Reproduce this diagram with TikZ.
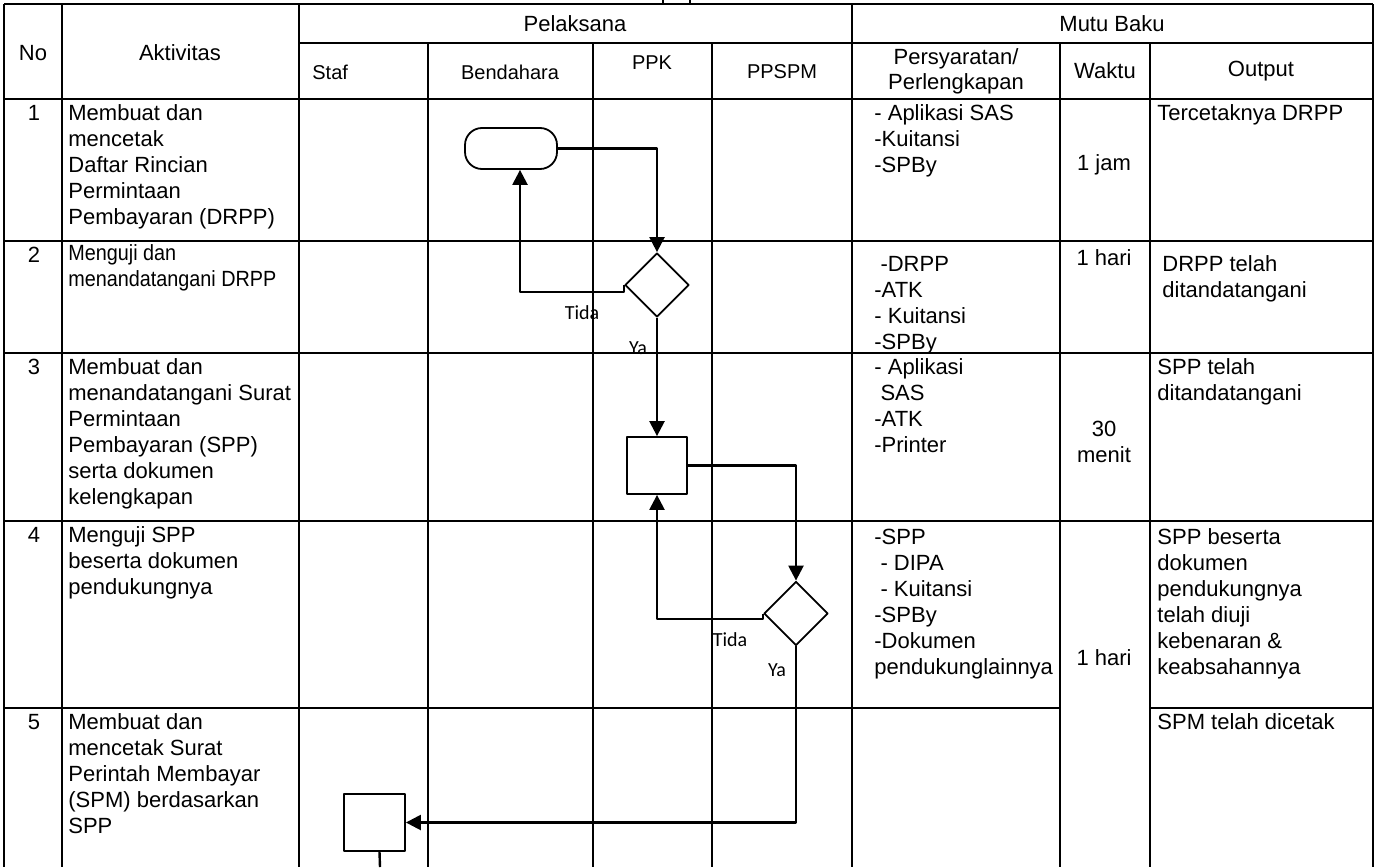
\documentclass[tikz,border=0pt]{standalone}
\usepackage{fontspec}
\setmainfont{Liberation Sans}
\newfontfamily\calibri{Carlito}
\newfontfamily\sempit[FakeStretch=0.9]{Liberation Sans}
\usetikzlibrary{arrows.meta,shapes.geometric,calc}
\newcommand{\isi}{\fontsize{11}{13}\selectfont}
\newcommand{\kecil}{\fontsize{10}{12}\selectfont}
\tikzset{
  garis/.style={line width=1.2pt},
  alur/.style={line width=1.2pt,-{Triangle[length=7.5pt,width=7.5pt]}},
  teks/.style={anchor=north west,inner sep=0pt,align=left,font=\isi},
  tengah/.style={inner sep=0pt,align=center,font=\isi},
  sub/.style={inner sep=0pt,align=center,font=\kecil},
  ket/.style={inner sep=0pt,font=\calibri\fontsize{10}{12}\selectfont},
  kotak/.style={draw,line width=0.9pt,minimum width=30pt,minimum height=28.5pt,inner sep=0pt},
  keputusan/.style={draw,diamond,aspect=1,line width=0.9pt,minimum width=32pt,minimum height=32pt,inner sep=0pt},
  terminal/.style={draw,line width=0.9pt,rounded corners=8.5pt,minimum width=46pt,minimum height=20.5pt,inner sep=0pt}
}
\begin{document}
\begin{tikzpicture}[x=0.5pt,y=-0.5pt,line join=round]
\useasboundingbox (0,0) rectangle (1375,867);
% tabel
\draw[garis] (4,4) -- (1373,4) (299,43) -- (1373,43) (4,99) -- (1373,99);
\foreach \y in {241,353,521}
	\draw[garis] (4,\y) -- (1373,\y);
\draw[garis] (4,708) -- (1060,708) (1150,708) -- (1373,708);
\foreach \x in {4,62,299,852,1373}
	\draw[garis] (\x,4) -- (\x,867);
\foreach \x in {428,593,712,1060,1150}
	\draw[garis] (\x,43) -- (\x,867);
\draw[garis] (663,0) -- (663,4) (690,0) -- (690,4);
% kepala tabel
\node[tengah] (hNo) at (33,53) {No};
\node[tengah] (hAktivitas) at (180,53) {Aktivitas};
\node[tengah] (hPelaksana) at (575,24) {Pelaksana};
\node[tengah] (hMutu) at (1112,24) {Mutu Baku};
\node[sub,anchor=west] (hStaf) at (312,72) {Staf};
\node[sub] (hBendahara) at (510,72) {Bendahara};
\node[sub] (hPPK) at (652,63) {PPK};
\node[sub] (hPPSPM) at (782,72) {PPSPM};
\node[tengah,font=\fontsize{11}{12.65}\selectfont] (hSyarat) at (956,71) {Persyaratan/\\Perlengkapan};
\node[tengah] (hWaktu) at (1105,71) {Waktu};
\node[tengah] (hOutput) at (1261,71) {Output};
% nomor
\foreach \no/\y in {1/99,2/241,3/353,4/521,5/708}
	\node[tengah,anchor=north] (no\no) at (34,\y+3) {\strut\no};
% aktivitas
\node[teks] (akt1) at (68,102) {\strut Membuat dan\\mencetak\\Daftar Rincian\\Permintaan\\Pembayaran (DRPP)};
\node[teks,font=\sempit\isi] (akt2) at (68,242) {\strut Menguji dan\\menandatangani DRPP};
\node[teks] (akt3) at (68,356) {\strut Membuat dan\\menandatangani Surat\\Permintaan\\Pembayaran (SPP)\\serta dokumen\\kelengkapan};
\node[teks] (akt4) at (68,524) {\strut Menguji SPP\\beserta dokumen\\pendukungnya};
\node[teks] (akt5) at (68,711) {\strut Membuat dan\\mencetak Surat\\Perintah Membayar\\(SPM) berdasarkan\\SPP};
% persyaratan
\node[teks] (syarat1) at (874,102) {\strut - Aplikasi SAS\\-Kuitansi\\-SPBy};
\node[teks] (syarat2) at (874,253) {\strut\ -DRPP\\-ATK\\- Kuitansi\\-SPBy};
\node[teks] (syarat3) at (874,356) {\strut - Aplikasi\\\ SAS\\-ATK\\-Printer};
\node[teks] (syarat4) at (874,526) {\strut -SPP\\\ - DIPA\\\ - Kuitansi\\-SPBy\\-Dokumen\\pendukunglainnya};
% waktu
\node[tengah] (waktu1) at (1104,165) {1 jam};
\node[tengah] (waktu2) at (1104,258) {1 hari};
\node[tengah] (waktu3) at (1104,442) {30\\menit};
\node[tengah] (waktu4) at (1104,658) {1 hari};
% output
\node[teks] (out1) at (1157,102) {\strut Tercetaknya DRPP};
\node[teks] (out2) at (1162,253) {\strut DRPP telah\\ditandatangani};
\node[teks] (out3) at (1157,356) {\strut SPP telah\\ditandatangani};
\node[teks] (out4) at (1157,526) {\strut SPP beserta\\dokumen\\pendukungnya\\telah diuji\\kebenaran \&\\keabsahannya};
\node[teks] (out5) at (1157,711) {\strut SPM telah dicetak};
% bagan alir
\node[terminal] (mulai) at (511,148.5) {};
\node[keputusan] (uji1) at (657,285) {};
\node[kotak] (spp) at (657,465.5) {};
\node[keputusan] (uji2) at (796,613.5) {};
\node[kotak,minimum width=30.5pt] (spm) at (374.5,822.5) {};
\coordinate (ujung) at (380,867);
\draw[alur] (mulai.east) -| (uji1.north);
\draw[alur] (uji1.west) -- ++(0,7) -| ([xshift=4.5pt]mulai.south);
\draw[alur] (uji1.south) -- (spp.north);
\draw[alur] (spp.east) -| (uji2.north);
\draw[alur] (uji2.west) -- ++(0,5.5) -| (spp.south);
\draw[alur] (uji2.south) |- (spm.east);
\draw[garis] ([xshift=2.5pt]spm.south) -- (ujung);
\node[ket] (tidak1) at (582,313) {Tida};
\node[ket] (ya1) at (638,348) {Ya};
\node[ket] (tidak2) at (730,640) {Tida};
\node[ket] (ya2) at (777,670) {Ya};
\end{tikzpicture}
\end{document}
